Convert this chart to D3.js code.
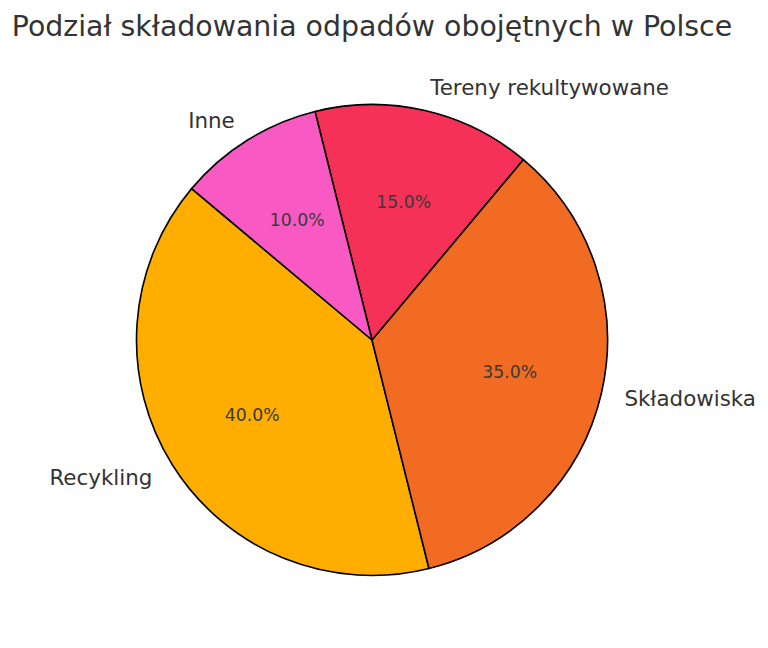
<!DOCTYPE html>
<html>
<head>
<meta charset="utf-8">
<script src="https://cdn.jsdelivr.net/npm/d3@7"></script>
<style>
  body { margin: 0; background: #fff; }
  text { font-family: "DejaVu Sans", sans-serif; }
</style>
</head>
<body>
<div id="chart"></div>
<script>
var categories = ["Recykling", "Składowiska", "Tereny rekultywowane", "Inne"],
	shares = [40, 35, 15, 10],
	colors = ["#FFAE00", "#F26B22", "#F53158", "#F959C2"];

var width = 768,
	height = 648,
	center = {x: 372, y: 340},
	radius = 235.5,
	startDeg = 140; // matplotlib-style start angle, counterclockwise

var svg = d3.select("#chart")
	.append("svg")
	.attr("width", width)
	.attr("height", height);

svg.append("text")
	.attr("x", center.x)
	.attr("y", 36)
	.attr("text-anchor", "middle")
	.style("font-size", "28.4px")
	.style("fill", "#333333")
	.text("Podział składowania odpadów obojętnych w Polsce");

// convert to d3 angles (clockwise from 12 o'clock), going counterclockwise
var start = (90 - startDeg) * Math.PI / 180;
var pie = d3.pie()
	.sort(null)
	.startAngle(start)
	.endAngle(start - 2 * Math.PI);

var arcs = pie(shares);
var total = d3.sum(shares);

var arc = d3.arc().innerRadius(0).outerRadius(radius);

var g = svg.append("g")
	.attr("transform", "translate(" + center.x + "," + center.y + ")");

g.selectAll("path")
	.data(arcs)
	.enter()
	.append("path")
	.attr("d", arc)
	.style("fill", (d, i) => colors[i])
	.style("stroke", "#000")
	.style("stroke-width", 1.6)
	.style("stroke-linejoin", "round");

function midPoint(d, r) {
	var a = (d.startAngle + d.endAngle) / 2;
	return {x: r * Math.sin(a), y: -r * Math.cos(a)};
}

g.selectAll("text.label")
	.data(arcs)
	.enter()
	.append("text")
	.attr("class", "label")
	.attr("x", d => midPoint(d, radius * 1.1).x)
	.attr("y", d => midPoint(d, radius * 1.1).y)
	.attr("dy", "0.35em")
	.attr("text-anchor", d => midPoint(d, 1).x < 0 ? "end" : "start")
	.style("font-size", "21.4px")
	.style("fill", "#333333")
	.text((d, i) => categories[i]);

g.selectAll("text.pct")
	.data(arcs)
	.enter()
	.append("text")
	.attr("class", "pct")
	.attr("x", d => midPoint(d, radius * 0.6).x)
	.attr("y", d => midPoint(d, radius * 0.6).y)
	.attr("dy", "0.35em")
	.attr("text-anchor", "middle")
	.style("font-size", "17.3px")
	.style("fill", "#3a3a3a")
	.text(d => (d.value / total * 100).toFixed(1) + "%");
</script>
</body>
</html>
